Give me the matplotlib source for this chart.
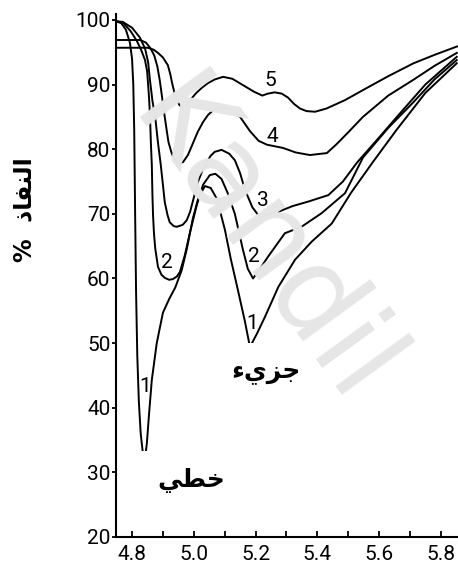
import matplotlib
matplotlib.use("Agg")
import matplotlib.pyplot as plt
from matplotlib.ticker import MultipleLocator

# wavelength (micrometre) and transmittance (%)
x1 = [4.748, 4.765, 4.780, 4.793, 4.800, 4.804, 4.807, 4.810, 4.813, 4.817, 4.822, 4.828,
      4.835, 4.842, 4.848, 4.855, 4.864, 4.880, 4.900, 4.920, 4.940, 4.961, 4.978, 4.997,
      5.015, 5.036, 5.055, 5.075, 5.101, 5.120, 5.143, 5.165, 5.182, 5.205, 5.231, 5.274,
      5.328, 5.382, 5.447, 5.510, 5.580, 5.657, 5.750, 5.852]
t1 = [99.8, 99.5, 98.5, 96.5, 94.0, 90.0, 83.0, 70.0, 58.0, 48.0, 41.0, 36.0,
      33.0, 32.2, 34.5, 39.0, 44.3, 50.0, 54.7, 56.8, 58.6, 61.3, 64.7, 69.3,
      72.5, 74.3, 74.0, 72.3, 67.5, 63.0, 58.2, 53.5, 49.4, 51.5, 54.1, 58.7,
      62.9, 65.7, 68.5, 73.3, 78.0, 83.0, 88.7, 93.3]

x2 = [4.748, 4.770, 4.795, 4.815, 4.830, 4.842, 4.849, 4.855, 4.858, 4.861, 4.864, 4.866,
      4.868, 4.871, 4.875, 4.884, 4.895, 4.906, 4.920, 4.932, 4.945, 4.955, 4.971, 4.988,
      5.010, 5.030, 5.052, 5.070, 5.090, 5.110, 5.133, 5.159, 5.175, 5.192, 5.210, 5.241,
      5.295, 5.349, 5.414, 5.490, 5.548, 5.630, 5.710, 5.780, 5.852]
t2 = [99.8, 99.6, 98.3, 96.8, 95.3, 93.8, 92.0, 88.0, 85.3, 81.0, 77.6, 73.0,
      69.8, 67.0, 64.7, 61.8, 60.6, 60.1, 59.8, 59.9, 60.3, 61.0, 63.6, 67.2,
      71.4, 74.5, 76.0, 76.2, 75.4, 73.2, 70.0, 64.5, 61.5, 60.0, 61.2, 63.4,
      67.0, 68.0, 70.1, 73.2, 78.7, 83.3, 87.2, 90.8, 93.8]

x3 = [4.748, 4.770, 4.800, 4.825, 4.842, 4.852, 4.858, 4.866, 4.875, 4.884, 4.893, 4.900,
      4.906, 4.915, 4.922, 4.935, 4.945, 4.964, 4.977, 4.988, 5.000, 5.013, 5.028, 5.042,
      5.055, 5.068, 5.090, 5.115, 5.133, 5.150, 5.166, 5.190, 5.209, 5.230, 5.273, 5.320,
      5.371, 5.436, 5.483, 5.530, 5.600, 5.658, 5.750, 5.852]
t3 = [99.8, 99.7, 98.8, 97.3, 95.6, 93.5, 90.7, 87.5, 85.0, 81.0, 77.6, 74.5,
      71.8, 69.8, 68.7, 68.1, 68.0, 68.3, 69.0, 70.3, 72.5, 74.9, 76.7, 78.0,
      79.0, 79.6, 79.9, 79.3, 78.3, 76.3, 73.7, 71.0, 69.8, 69.8, 70.3, 71.2,
      71.9, 72.9, 75.0, 78.0, 81.8, 85.0, 90.0, 94.3]

x4 = [4.748, 4.826, 4.845, 4.860, 4.872, 4.882, 4.890, 4.898, 4.905, 4.912, 4.918, 4.927,
      4.935, 4.950, 4.965, 4.981, 4.997, 5.013, 5.030, 5.046, 5.062, 5.078, 5.100, 5.123,
      5.150, 5.182, 5.210, 5.237, 5.289, 5.330, 5.376, 5.431, 5.463, 5.500, 5.548, 5.630,
      5.710, 5.780, 5.852]
t4 = [96.9, 96.9, 96.5, 95.6, 94.5, 92.8, 90.6, 87.8, 85.3, 83.0, 81.1, 79.6,
      78.6, 77.8, 78.0, 79.1, 80.9, 82.7, 84.2, 85.3, 86.0, 86.4, 86.6, 86.0,
      85.0, 82.8, 81.3, 80.7, 80.2, 79.5, 79.1, 79.4, 80.8, 82.6, 85.0, 88.3,
      90.7, 92.9, 94.9]

x5 = [4.748, 4.800, 4.851, 4.870, 4.884, 4.900, 4.916, 4.924, 4.929, 4.937, 4.945, 4.954,
      4.964, 4.975, 4.990, 5.008, 5.026, 5.045, 5.068, 5.095, 5.125, 5.160, 5.195, 5.222,
      5.240, 5.262, 5.285, 5.305, 5.325, 5.344, 5.365, 5.393, 5.430, 5.490, 5.550, 5.630,
      5.712, 5.780, 5.853]
t5 = [95.7, 95.7, 95.7, 95.4, 94.9, 94.2, 93.0, 91.6, 90.4, 88.8, 87.6, 86.8,
      86.5, 86.8, 87.7, 88.7, 89.5, 90.2, 90.8, 91.2, 90.9, 89.9, 88.9, 88.3,
      88.6, 88.8, 88.6, 88.0, 87.0, 86.3, 85.9, 85.8, 86.3, 87.6, 89.2, 91.3,
      93.3, 94.6, 95.9]

curves = [(x1, t1), (x2, t2), (x3, t3), (x4, t4), (x5, t5)]

# curve numbers as printed on the figure
labels = ["1", "2", "3", "4", "5", "1", "2"]
label_x = [5.188, 5.195, 5.224, 5.253, 5.247, 4.842, 4.913]
label_y = [53.1, 63.4, 72.1, 81.9, 90.7, 43.3, 62.4]

# arabic text, presentation forms in visual order (matplotlib does no shaping)
ylabel = "%  \uFEAB\uFE8E\uFED4\uFEE8\uFEDF\uFE8D"      # النفاذ %
txt_overtone = "\uFE80\uFEF1\uFEB0\uFE9F"                # جزيء
txt_linear = "\uFEF2\uFEC4\uFEA7"                        # خطي

fig = plt.figure(figsize=(4.58, 5.68), dpi=100)
ax = fig.add_axes([116 / 458, 31 / 568, 342 / 458, 523.5 / 568])

# faint watermark of the scan
fig.text(262 / 458, 1 - 245 / 568, "Kandil", fontsize=86, color="#e6e6e6",
         rotation=-54, ha="center", va="center", family="DejaVu Sans", zorder=0)
ax.patch.set_alpha(0)

for xs, ts in curves:
    ax.plot(xs, ts, color="black", lw=1.4, solid_joinstyle="round", zorder=2)

for s, lx, ly in zip(labels, label_x, label_y):
    ax.text(lx, ly, s, fontsize=15, family="Roboto", ha="center", va="center", zorder=3)

ax.text(5.235, 45.6, txt_overtone, fontsize=18, fontweight="bold", family="DejaVu Sans",
        ha="center", va="center", zorder=4,
        bbox=dict(facecolor="white", edgecolor="none", pad=12))
ax.text(4.993, 28.8, txt_linear, fontsize=18, fontweight="bold", family="DejaVu Sans",
        ha="center", va="center", zorder=4,
        bbox=dict(facecolor="white", edgecolor="none", pad=12))
fig.text(24 / 458, 1 - 210 / 568, ylabel, fontsize=17, fontweight="bold",
         family="DejaVu Sans", rotation=90, ha="center", va="center")

ax.set_xlim(4.748, 5.856)
ax.set_ylim(20, 101)
ax.spines["top"].set_visible(False)
ax.spines["right"].set_visible(False)
for side in ("left", "bottom"):
    ax.spines[side].set_linewidth(1.5)

ax.xaxis.set_major_locator(MultipleLocator(0.2))
ax.xaxis.set_minor_locator(MultipleLocator(0.1))
ax.yaxis.set_major_locator(MultipleLocator(10))
ax.tick_params(axis="x", which="both", direction="in", length=4, width=1.3, pad=6)
ax.tick_params(axis="y", direction="out", length=3, width=1.3, pad=1)
for lab in ax.get_xticklabels() + ax.get_yticklabels():
    lab.set_family("Roboto")
    lab.set_fontsize(15)
ax.xaxis.set_major_formatter(plt.FuncFormatter(lambda v, p: f"{v:.1f}"))

fig.savefig("out.png", dpi=100)
